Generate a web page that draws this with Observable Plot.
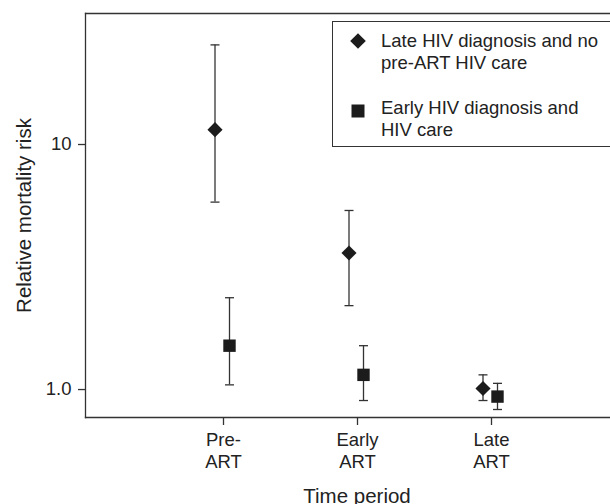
<!DOCTYPE html>
<html>
<head>
<meta charset="utf-8">
<script src="https://cdn.jsdelivr.net/npm/d3@7"></script>
<script src="https://cdn.jsdelivr.net/npm/@observablehq/plot@0.6"></script>
<style>
  html, body { margin: 0; padding: 0; background: #fff; overflow: hidden; width: 610px; height: 504px; }
  #wrap { position: relative; width: 610px; height: 504px; overflow: hidden; font-family: "Liberation Sans", Arial, sans-serif; }
  #wrap svg { max-width: none !important; }
  #legend { position: absolute; left: 332px; top: 21px; width: 290px; height: 126px; border: 1.3px solid #333; border-right: none; box-sizing: border-box; background: #fff; color: #222; font-size: 18.5px; }
  .entry { position: absolute; left: 48px; line-height: 22px; white-space: nowrap; }
  .sym { position: absolute; left: 16px; }
</style>
</head>
<body>
<div id="wrap"></div>
<script>
const periods = ["Pre-ART", "Early ART", "Late ART"];
const periodLabels = ["Pre-\nART", "Early\nART", "Late\nART"];
const seriesNames = ["Late HIV diagnosis and no\npre-ART HIV care", "Early HIV diagnosis and\nHIV care"];
const lateRisk = [11.5, 3.61, 1.01];
const lateLo = [5.82, 2.20, 0.902];
const lateHi = [25.5, 5.38, 1.148];
const earlyRisk = [1.51, 1.148, 0.936];
const earlyLo = [1.045, 0.902, 0.829];
const earlyHi = [2.37, 1.51, 1.06];
const yTicks = [1, 10];
const yTickLabels = ["1.0", "10"];

const late = periods.map((p, i) => ({period: p, risk: lateRisk[i], lo: lateLo[i], hi: lateHi[i]}));
const early = periods.map((p, i) => ({period: p, risk: earlyRisk[i], lo: earlyLo[i], hi: earlyHi[i]}));

const cap = {draw(ctx, size) { const h = Math.sqrt(size / Math.PI); ctx.moveTo(-h, 0); ctx.lineTo(h, 0); }};
const ink = "#1c1c1c";
const lineCol = "#333";

function bars(data, dx, symbol, r) {
  return [
    Plot.ruleX(data, {x: "period", y1: "lo", y2: "hi", dx, stroke: lineCol, strokeWidth: 1.3}),
    Plot.dot(data, {x: "period", y: "lo", dx, symbol: cap, r: 4.5, stroke: lineCol, strokeWidth: 1.3}),
    Plot.dot(data, {x: "period", y: "hi", dx, symbol: cap, r: 4.5, stroke: lineCol, strokeWidth: 1.3}),
    Plot.dot(data, {x: "period", y: "risk", dx, symbol, r, fill: ink, stroke: "none"})
  ];
}

const chart = Plot.plot({
  width: 628,
  height: 504,
  marginLeft: 85,
  marginRight: 0,
  marginTop: 13,
  marginBottom: 87,
  style: {fontFamily: "'Liberation Sans', Arial, sans-serif", color: "#222", background: "#fff", maxWidth: "none"},
  x: {type: "point", domain: periods, padding: 1.02},
  y: {type: "log", domain: [0.769, 34.25]},
  marks: [
    Plot.frame({anchor: "top", stroke: lineCol, strokeWidth: 1.3}),
    Plot.frame({anchor: "bottom", stroke: lineCol, strokeWidth: 1.3}),
    Plot.frame({anchor: "left", stroke: lineCol, strokeWidth: 1.3}),
    Plot.axisY({ticks: yTicks, tickFormat: d => yTickLabels[yTicks.indexOf(d)], tickSize: 7, tickPadding: 7, fontSize: 18.5, stroke: lineCol, strokeWidth: 1.3,
      label: "Relative mortality risk", labelAnchor: "center", labelArrow: "none", labelOffset: 69}),
    Plot.axisX({tickFormat: d => periodLabels[periods.indexOf(d)], tickSize: 8, tickPadding: 5, fontSize: 18.5, lineHeight: 1.18, stroke: lineCol, strokeWidth: 1.3,
      label: "Time period", labelAnchor: "center", labelArrow: "none", labelOffset: 85}),
    ...bars(late, -8.5, "diamond2", 6.8),
    ...bars(early, 6, "square", 7.0)
  ]
});
chart.querySelectorAll("g[aria-label='y-axis label'] text, g[aria-label='x-axis label'] text").forEach(t => t.style.fontSize = "20.5px");

const wrap = document.getElementById("wrap");
wrap.appendChild(chart);

const legend = document.createElement("div");
legend.id = "legend";
const diamondSvg = `<svg width="18" height="18" viewBox="-9 -9 18 18"><path d="M0,-7.8L7.8,0L0,7.8L-7.8,0Z" fill="${ink}"/></svg>`;
const squareSvg = `<svg width="14" height="14" viewBox="-7 -7 14 14"><rect x="-6.5" y="-6.5" width="13" height="13" fill="${ink}"/></svg>`;
legend.innerHTML =
  `<div class="sym" style="top:10px;left:16px">${diamondSvg}</div>` +
  `<div class="entry" style="top:8px">${seriesNames[0].replace("\n", "<br>")}</div>` +
  `<div class="sym" style="top:79px;left:18px">${squareSvg}</div>` +
  `<div class="entry" style="top:75px">${seriesNames[1].replace("\n", "<br>")}</div>`;
wrap.appendChild(legend);
</script>
</body>
</html>
